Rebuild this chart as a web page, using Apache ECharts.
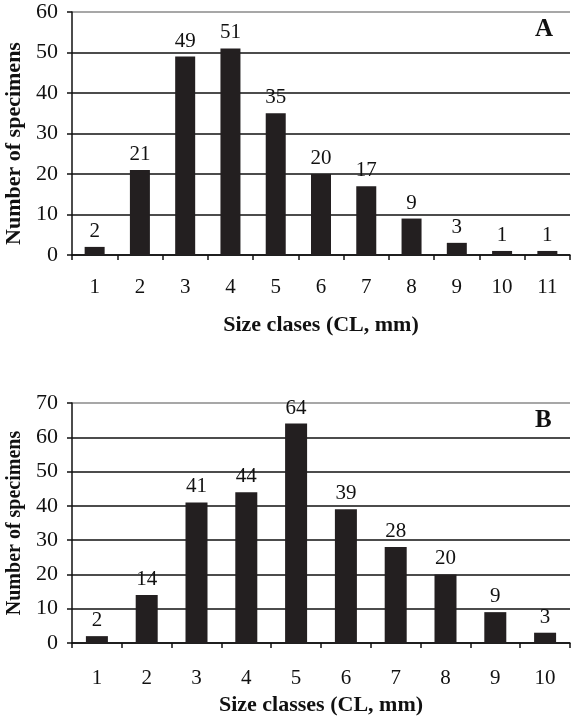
<!DOCTYPE html>
<html><head><meta charset="utf-8">
<script src="https://cdn.jsdelivr.net/npm/echarts@6/dist/echarts.min.js"></script>
<style>html,body{margin:0;padding:0;background:#fff}#c{width:571px;height:725px}</style>
</head><body><div id="c"></div>
<script>
const catsA = ['1','2','3','4','5','6','7','8','9','10','11'];
const valsA = [2,21,49,51,35,20,17,9,3,1,1];
const catsB = ['1','2','3','4','5','6','7','8','9','10'];
const valsB = [2,14,41,44,64,39,28,20,9,3];
const xNameA = 'Size clases (CL, mm)';
const xNameB = 'Size classes (CL, mm)';
const yName = 'Number of specimens';

const F = 'Liberation Serif';
const chart = echarts.init(document.getElementById('c'));
function yAx(gi, max, n, nameSize, pad){
  const cols = []; for(let i=0;i<n;i++) cols.push(i===n-1?'#8a8a8a':'#111');
  return {type:'value', gridIndex:gi, min:0, max:max, interval:10,
    name:yName, nameLocation:'middle', nameGap:47, nameRotate:90,
    nameTextStyle:{fontFamily:F, fontWeight:'bold', fontSize:nameSize, color:'#111', padding:pad},
    axisLine:{show:true, lineStyle:{color:'#111', width:1.5}},
    axisTick:{show:true, length:5, lineStyle:{color:'#111', width:1.5}},
    axisLabel:{fontFamily:F, fontSize:22, color:'#111', margin:14},
    splitLine:{show:true, lineStyle:{color:cols, width:1.5}}};
}
function xAx(gi, cats, name, margin, gap){
  return {type:'category', gridIndex:gi, data:cats,
    name:name, nameLocation:'middle', nameGap:gap,
    nameTextStyle:{fontFamily:F, fontWeight:'bold', fontSize:22, color:'#111'},
    axisLine:{lineStyle:{color:'#111', width:1.5}},
    axisTick:{show:true, length:5, lineStyle:{color:'#111', width:1.5}},
    axisLabel:{fontFamily:F, fontSize:21, color:'#111', margin:margin}};
}
function ser(gi, vals, bw){
  return {type:'bar', xAxisIndex:gi, yAxisIndex:gi, data:vals, barWidth:bw,
    itemStyle:{color:'#231f20'},
    label:{show:true, position:'top', distance:5, fontFamily:F, fontSize:21, color:'#111'}};
}
chart.setOption({
  animation:false,
  grid:[{left:72, right:1, top:12, height:243, containLabel:false, outerBoundsMode:'none'},
        {left:72, right:1, top:403, height:240, containLabel:false, outerBoundsMode:'none'}],
  xAxis:[xAx(0,catsA,xNameA,22,59), xAx(1,catsB,xNameB,25,51)],
  yAxis:[yAx(0,60,7,22,[0,20,0,0]), yAx(1,70,8,20,[0,0,0,0])],
  series:[ser(0,valsA,20), ser(1,valsB,22)],
  graphic:[
    {type:'text', left:535, top:17, style:{text:'A', font:'bold 25px "Liberation Serif"', fill:'#111'}},
    {type:'text', left:535, top:408, style:{text:'B', font:'bold 25px "Liberation Serif"', fill:'#111'}}
  ]
});
</script></body></html>
